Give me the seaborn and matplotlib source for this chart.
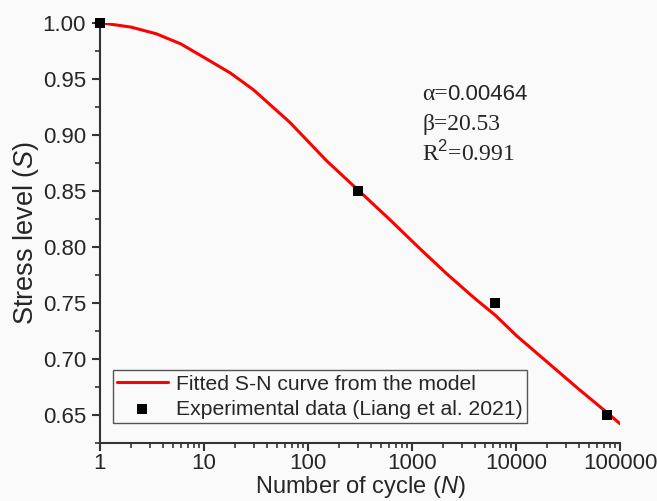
import numpy as np
import matplotlib.pyplot as plt
import pandas as pd
import seaborn as sns
from matplotlib.ticker import LogLocator, FixedLocator, MultipleLocator, NullFormatter

# fitted S-N curve
curve_n = [1, 2, 3.5, 6, 10, 18, 30, 67, 150, 300, 600, 1200, 2150, 4000, 6300, 10000, 20000, 40000, 75000, 100000]
curve_s = [1.000, 0.996, 0.990, 0.981, 0.969, 0.955, 0.940, 0.911, 0.877, 0.851, 0.825, 0.798, 0.776, 0.754, 0.739, 0.721, 0.697, 0.673, 0.652, 0.642]

# experimental points
exp_n = [1, 300, 6300, 75000]
exp_s = [1.00, 0.85, 0.75, 0.65]

xticks = [1, 10, 100, 1000, 10000, 100000]
xticklabels = ['1', '10', '100', '1000', '10000', '100000']
yticks = [0.65, 0.70, 0.75, 0.80, 0.85, 0.90, 0.95, 1.00]

sns.set_style("ticks")
plt.rcParams['font.family'] = ['Liberation Sans', 'DejaVu Sans']
plt.rcParams['mathtext.fontset'] = 'custom'
plt.rcParams['mathtext.it'] = 'Liberation Sans:italic'
plt.rcParams['mathtext.rm'] = 'Liberation Sans'

df_curve = pd.DataFrame({'N': curve_n, 'S': curve_s})
df_exp = pd.DataFrame({'N': exp_n, 'S': exp_s})

fig = plt.figure(figsize=(6.57, 5.01), dpi=100, facecolor='#fafafa')
ax = fig.add_axes([0.152, 0.1158, 0.792, 0.839])
ax.set_facecolor('#fafafa')

sns.lineplot(data=df_curve, x='N', y='S', color='#ff0000', linewidth=2.2, ax=ax,
             label='Fitted S-N curve from the model', zorder=2)
sns.scatterplot(data=df_exp, x='N', y='S', marker='s', color='black', s=55,
                edgecolor='black', linewidth=0, ax=ax, zorder=3, clip_on=False,
                label='Experimental data (Liang et al. 2021)')

ax.set_xscale('log')
ax.set_xlim(1, 100000)
ax.set_ylim(0.625, 1.0)
ax.xaxis.set_major_locator(FixedLocator(xticks))
ax.set_xticklabels(xticklabels)
ax.xaxis.set_minor_locator(LogLocator(base=10, subs=np.arange(2, 10)))
ax.xaxis.set_minor_formatter(NullFormatter())
ax.yaxis.set_major_locator(FixedLocator(yticks))
ax.set_yticklabels([f'{v:.2f}' for v in yticks])
ax.yaxis.set_minor_locator(MultipleLocator(0.025))

for side in ['top', 'right']:
    ax.spines[side].set_visible(False)
for side in ['left', 'bottom']:
    ax.spines[side].set_color('#333333')
    ax.spines[side].set_linewidth(1.5)
ax.tick_params(which='major', direction='out', length=6, width=1.5, color='#333333',
               labelsize=16, pad=4)
ax.tick_params(axis='x', which='major', pad=1.5)
ax.tick_params(which='minor', direction='out', length=3.5, width=1.2, color='#333333')

ax.set_xlabel('Number of cycle ($\\it{N}$)', fontsize=17, labelpad=0)
ax.set_ylabel('Stress level ($\\it{S}$)', fontsize=19.5, labelpad=1)

serif = ['Liberation Serif', 'DejaVu Serif']
ax.text(0.62, 0.815, 'α=', transform=ax.transAxes, fontsize=17, family=serif)
ax.text(0.667, 0.815, '0.00464', transform=ax.transAxes, fontsize=16)
ax.text(0.62, 0.745, 'β=20.53', transform=ax.transAxes, fontsize=17, family=serif)
ax.text(0.62, 0.672, 'R$^2$=0.991', transform=ax.transAxes, fontsize=17, family=serif)

leg = ax.legend(loc='lower left', bbox_to_anchor=(0.025, 0.048), fontsize=15.2, frameon=True,
                fancybox=False, edgecolor='#555555', framealpha=1, facecolor='#fafafa',
                borderpad=0.2, labelspacing=0.28, handlelength=2.4, handletextpad=0.4,
                borderaxespad=0)
leg.get_frame().set_linewidth(1.0)

fig.savefig('out.png', dpi=100, facecolor=fig.get_facecolor())
